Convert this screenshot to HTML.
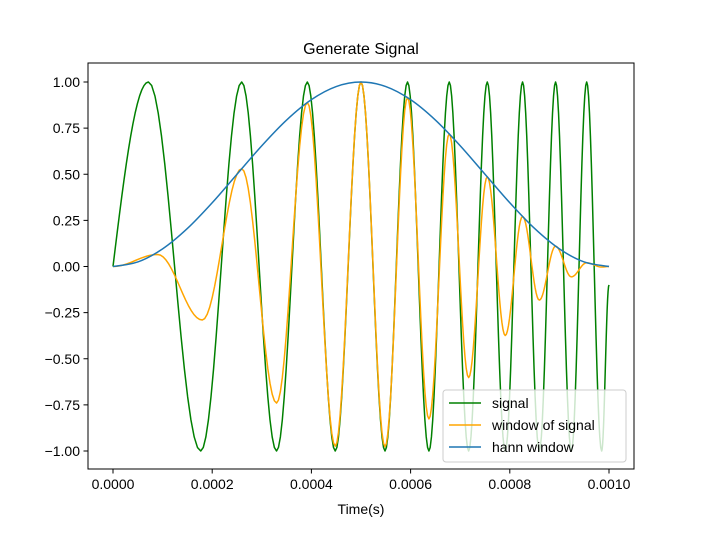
<!DOCTYPE html>
<html><head><meta charset="utf-8"><style>
body{margin:0;background:#fff;}
svg text{font-family:"Liberation Sans","DejaVu Sans",sans-serif;fill:#000;}
</style></head><body>
<svg id="chart" width="704" height="528" xmlns="http://www.w3.org/2000/svg">
<rect width="704" height="528" fill="#fff"/>
<text x="361" y="54" font-size="16" text-anchor="middle">Generate Signal</text>
<g id="plot"></g>
<g id="axes"></g>
<text x="361" y="514" font-size="14" text-anchor="middle">Time(s)</text>
<g>
<rect x="443" y="390" width="183" height="72" fill="#fff" fill-opacity="0.8" stroke="#ccc" rx="3"/>
<g><line x1="449" x2="481" y1="403" y2="403" stroke="#008000" stroke-width="1.5"/><text x="492" y="408" font-size="14">signal</text></g>
<g><line x1="449" x2="481" y1="425" y2="425" stroke="#ffa500" stroke-width="1.5"/><text x="492" y="430" font-size="14">window of signal</text></g>
<g><line x1="449" x2="481" y1="447" y2="447" stroke="#1f77b4" stroke-width="1.5"/><text x="492" y="452" font-size="14">hann window</text></g>
</g>
</svg>
<script>
// time in units of ms (u = t / 0.001 s)
const signalT = [0,0.0714,0.1769,0.2595,0.3297,0.3918,0.4481,0.5,0.5484,0.5938,0.6369,0.6779,0.7170,0.7546,0.7908,0.8257,0.8595,0.8923,0.9241,0.9550,0.9852,1.0];
const signalV = [0,1,-1,1,-1,1,-1,1,-1,1,-1,1,-1,1,-1,1,-1,1,-1,1,-1,-0.1];
const windowT = [0,0.09,0.18,0.2595,0.3297,0.3918,0.4481,0.5,0.5484,0.5938,0.6369,0.6779,0.7170,0.7546,0.7908,0.8257,0.8595,0.8923,0.9241,0.9550,0.9852,1.0];
const windowV = [0,0.065,-0.29,0.53,-0.74,0.889,-0.974,1,-0.977,0.916,-0.826,0.719,-0.602,0.486,-0.374,0.271,-0.182,0.110,-0.056,0.020,-0.003,0];
const hannT = [0,0.05,0.1,0.15,0.2,0.25,0.3,0.35,0.4,0.45,0.5,0.55,0.6,0.65,0.7,0.75,0.8,0.85,0.9,0.95,1.0];
const hannV = [0,0.0245,0.0955,0.2061,0.3455,0.5,0.6545,0.7939,0.9045,0.9755,1,0.9755,0.9045,0.7939,0.6545,0.5,0.3455,0.2061,0.0955,0.0245,0];
const xTicks = [0,0.2,0.4,0.6,0.8,1.0];
const xTickLabels = ["0.0000","0.0002","0.0004","0.0006","0.0008","0.0010"];
const yTicks = [-1,-0.75,-0.5,-0.25,0,0.25,0.5,0.75,1];
const yTickLabels = ["\u22121.00","\u22120.75","\u22120.50","\u22120.25","0.00","0.25","0.50","0.75","1.00"];

const X = u => 113 + u*496;
const Y = v => 266.5 - v*184.5;
const NS = "http://www.w3.org/2000/svg";
const plot = document.getElementById('plot');
const axes = document.getElementById('axes');

function oscPath(T, V, sineStart){
  let d = "M"+X(T[0]).toFixed(2)+","+Y(V[0]).toFixed(2);
  for(let i=0;i<T.length-1;i++){
    const n=16;
    for(let k=1;k<=n;k++){
      const s=k/n; let w;
      if(i===0 && sineStart) w=Math.sin(s*Math.PI/2);
      else w=(1-Math.cos(s*Math.PI))/2;
      const u=T[i]+(T[i+1]-T[i])*s, v=V[i]+(V[i+1]-V[i])*w;
      d+=" L"+X(u).toFixed(2)+","+Y(v).toFixed(2);
    }
  }
  return d;
}
function smoothPath(T,V){
  const P=T.map((t,i)=>[X(t),Y(V[i])]);
  let d="M"+P[0][0]+","+P[0][1];
  for(let i=0;i<P.length-1;i++){
    const p0=P[Math.max(0,i-1)],p1=P[i],p2=P[i+1],p3=P[Math.min(P.length-1,i+2)];
    const c1=[p1[0]+(p2[0]-p0[0])/6,p1[1]+(p2[1]-p0[1])/6];
    const c2=[p2[0]-(p3[0]-p1[0])/6,p2[1]-(p3[1]-p1[1])/6];
    d+=` C${c1[0]},${c1[1]} ${c2[0]},${c2[1]} ${p2[0]},${p2[1]}`;
  }
  return d;
}
function addPath(d,color,name){
  const p=document.createElementNS(NS,'path');
  p.setAttribute('d',d);p.setAttribute('fill','none');p.setAttribute('stroke',color);
  p.setAttribute('stroke-width','1.5');p.setAttribute('stroke-linejoin','round');
  
  
  plot.appendChild(p);
}
addPath(oscPath(signalT,signalV,true),'#008000','signal-line');
addPath(oscPath(windowT,windowV,false),'#ffa500','window-of-signal-line');
addPath(smoothPath(hannT,hannV),'#1f77b4','hann-window-line');

const frame=document.createElementNS(NS,'rect');
frame.setAttribute('x','88');frame.setAttribute('y','63');frame.setAttribute('width','546');frame.setAttribute('height','406');
frame.setAttribute('fill','none');frame.setAttribute('stroke','#000');frame.setAttribute('stroke-width','1');


axes.appendChild(frame);

xTicks.forEach((t,i)=>{
  const l=document.createElementNS(NS,'line');
  l.setAttribute('x1',X(t));l.setAttribute('x2',X(t));l.setAttribute('y1',469);l.setAttribute('y2',473.5);l.setAttribute('stroke','#000');
  
  
  axes.appendChild(l);
  const tx=document.createElementNS(NS,'text');
  tx.setAttribute('x',X(t));tx.setAttribute('y',489);tx.setAttribute('font-size','14');tx.setAttribute('text-anchor','middle');
  tx.textContent=xTickLabels[i];
  
  
  axes.appendChild(tx);
});
yTicks.forEach((v,i)=>{
  const l=document.createElementNS(NS,'line');
  l.setAttribute('x1',83.5);l.setAttribute('x2',88);l.setAttribute('y1',Y(v));l.setAttribute('y2',Y(v));l.setAttribute('stroke','#000');
  
  
  axes.appendChild(l);
  const tx=document.createElementNS(NS,'text');
  tx.setAttribute('x',80);tx.setAttribute('y',Y(v)+5);tx.setAttribute('font-size','14');tx.setAttribute('text-anchor','end');
  tx.textContent=yTickLabels[i];
  
  
  axes.appendChild(tx);
});
</script>
</body></html>
